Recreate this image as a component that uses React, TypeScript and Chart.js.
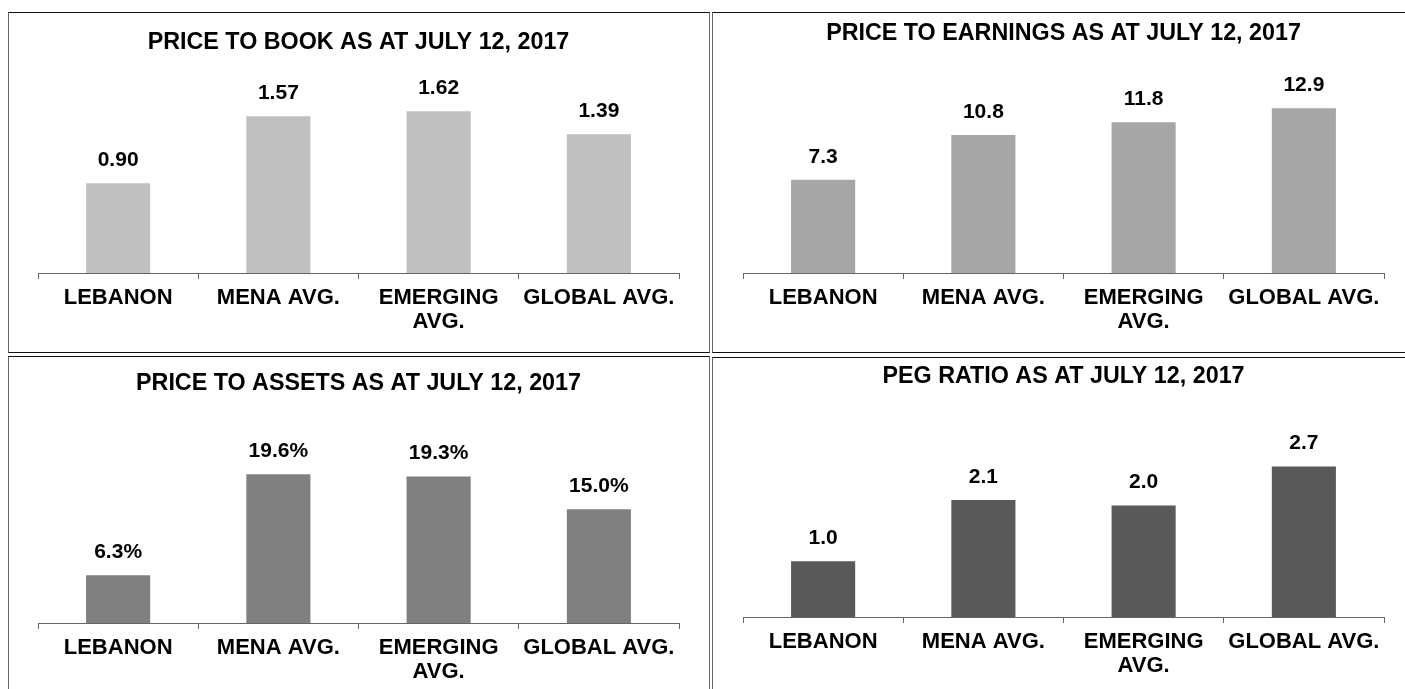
import React, { useEffect, useRef } from "react";
import { Chart, registerables } from "chart.js";

Chart.register(...registerables);

// ---- data ----
const categories: (string | string[])[] = ["LEBANON", "MENA AVG.", ["EMERGING", "AVG."], "GLOBAL AVG."];
const priceToBook = [0.9, 1.57, 1.62, 1.39];
const priceToEarnings = [7.3, 10.8, 11.8, 12.9];
const priceToAssets = [6.3, 19.6, 19.3, 15.0];
const pegRatio = [1.0, 2.1, 2.0, 2.7];
const titles = [
  "PRICE TO BOOK AS AT JULY 12, 2017",
  "PRICE TO EARNINGS AS AT JULY 12, 2017",
  "PRICE TO ASSETS AS AT JULY 12, 2017",
  "PEG RATIO AS AT JULY 12, 2017",
];

const FONT = "'Liberation Sans', Arial, Helvetica, sans-serif";

type PanelCfg = {
  title: string;
  values: number[];
  format: (v: number) => string;
  color: string;
  left: number;
  top: number;
  cw: number;
  ch: number;
  padL: number;
  padR: number;
  titleTop: number;
  titleBottom: number;
  xHeight: number;
  yMax: number;
};

const panels: PanelCfg[] = [
  {
    title: titles[0], values: priceToBook, format: (v) => v.toFixed(2), color: "#c0c0c0",
    left: 8, top: 12, cw: 700, ch: 339, padL: 29, padR: 30,
    titleTop: 15.2, titleBottom: 17.2, xHeight: 79, yMax: 2.0,
  },
  {
    title: titles[1], values: priceToEarnings, format: (v) => v.toFixed(1), color: "#a6a6a6",
    left: 712, top: 12, cw: 700, ch: 339, padL: 30, padR: 29,
    titleTop: 6.2, titleBottom: 26.2, xHeight: 79, yMax: 15.625,
  },
  {
    title: titles[2], values: priceToAssets, format: (v) => v.toFixed(1) + "%", color: "#808080",
    left: 8, top: 356, cw: 700, ch: 340, padL: 29, padR: 30,
    titleTop: 12.2, titleBottom: 20.2, xHeight: 74, yMax: 27.1,
  },
  {
    title: titles[3], values: pegRatio, format: (v) => v.toFixed(1), color: "#595959",
    left: 712, top: 357, cw: 700, ch: 340, padL: 30, padR: 29,
    titleTop: 4.2, titleBottom: 28.2, xHeight: 81, yMax: 3.566,
  },
];

function Panel({ cfg }: { cfg: PanelCfg }) {
  const ref = useRef<HTMLCanvasElement | null>(null);
  useEffect(() => {
    if (!ref.current) return;
    const valueLabels = {
      id: "valueLabels",
      afterDatasetsDraw(chart: any) {
        const ctx = chart.ctx;
        const meta = chart.getDatasetMeta(0);
        ctx.save();
        ctx.font = `bold 21px ${FONT}`;
        ctx.fillStyle = "#000";
        ctx.textAlign = "center";
        ctx.textBaseline = "middle";
        meta.data.forEach((bar: any, i: number) => {
          const v = chart.data.datasets[0].data[i] as number;
          ctx.fillText(cfg.format(v), bar.x, bar.y - 23);
        });
        ctx.restore();
      },
    };
    const chart = new Chart(ref.current, {
      type: "bar",
      data: {
        labels: categories as any,
        datasets: [
          {
            data: cfg.values,
            backgroundColor: cfg.color,
            borderWidth: 0,
            barPercentage: 0.4,
            categoryPercentage: 1.0,
          },
        ],
      },
      options: {
        responsive: false,
        animation: false,
        devicePixelRatio: 1,
        layout: { padding: { left: cfg.padL, right: cfg.padR, top: 0, bottom: 0 } },
        plugins: {
          legend: { display: false },
          tooltip: { enabled: false },
          title: {
            display: true,
            text: cfg.title,
            color: "#000",
            font: { family: FONT, size: 23.3, weight: "bold", lineHeight: 1.2 },
            padding: { top: cfg.titleTop, bottom: cfg.titleBottom },
          },
        },
        scales: {
          x: {
            grid: {
              display: true,
              drawOnChartArea: false,
              drawTicks: true,
              tickLength: 6,
              color: "#666",
              offset: true,
            },
            border: { display: true, color: "#666", width: 1 },
            ticks: {
              color: "#000",
              font: { family: FONT, size: 22, weight: "bold", lineHeight: 1.1 },
              padding: 7,
              maxRotation: 0,
              minRotation: 0,
              autoSkip: false,
            },
            afterFit: (s: any) => {
              s.height = cfg.xHeight;
            },
          },
          y: { display: false, min: 0, max: cfg.yMax },
        },
      },
      plugins: [valueLabels],
    } as any);
    return () => chart.destroy();
  }, []);
  return (
    <div
      style={{
        position: "absolute",
        left: cfg.left,
        top: cfg.top,
        width: cfg.cw,
        height: cfg.ch,
        borderTop: "1px solid #111",
        borderBottom: "1px solid #111",
        borderLeft: "1px solid #666",
        borderRight: "1px solid #666",
        background: "#fff",
      }}
    >
      <canvas ref={ref} width={cfg.cw} height={cfg.ch} style={{ display: "block" }} />
    </div>
  );
}

export default function App() {
  return (
    <div
      style={{
        position: "fixed",
        left: 0,
        top: 0,
        width: 1405,
        height: 689,
        overflow: "hidden",
        background: "#fff",
      }}
    >
      {panels.map((p, i) => (
        <Panel key={i} cfg={p} />
      ))}
    </div>
  );
}
